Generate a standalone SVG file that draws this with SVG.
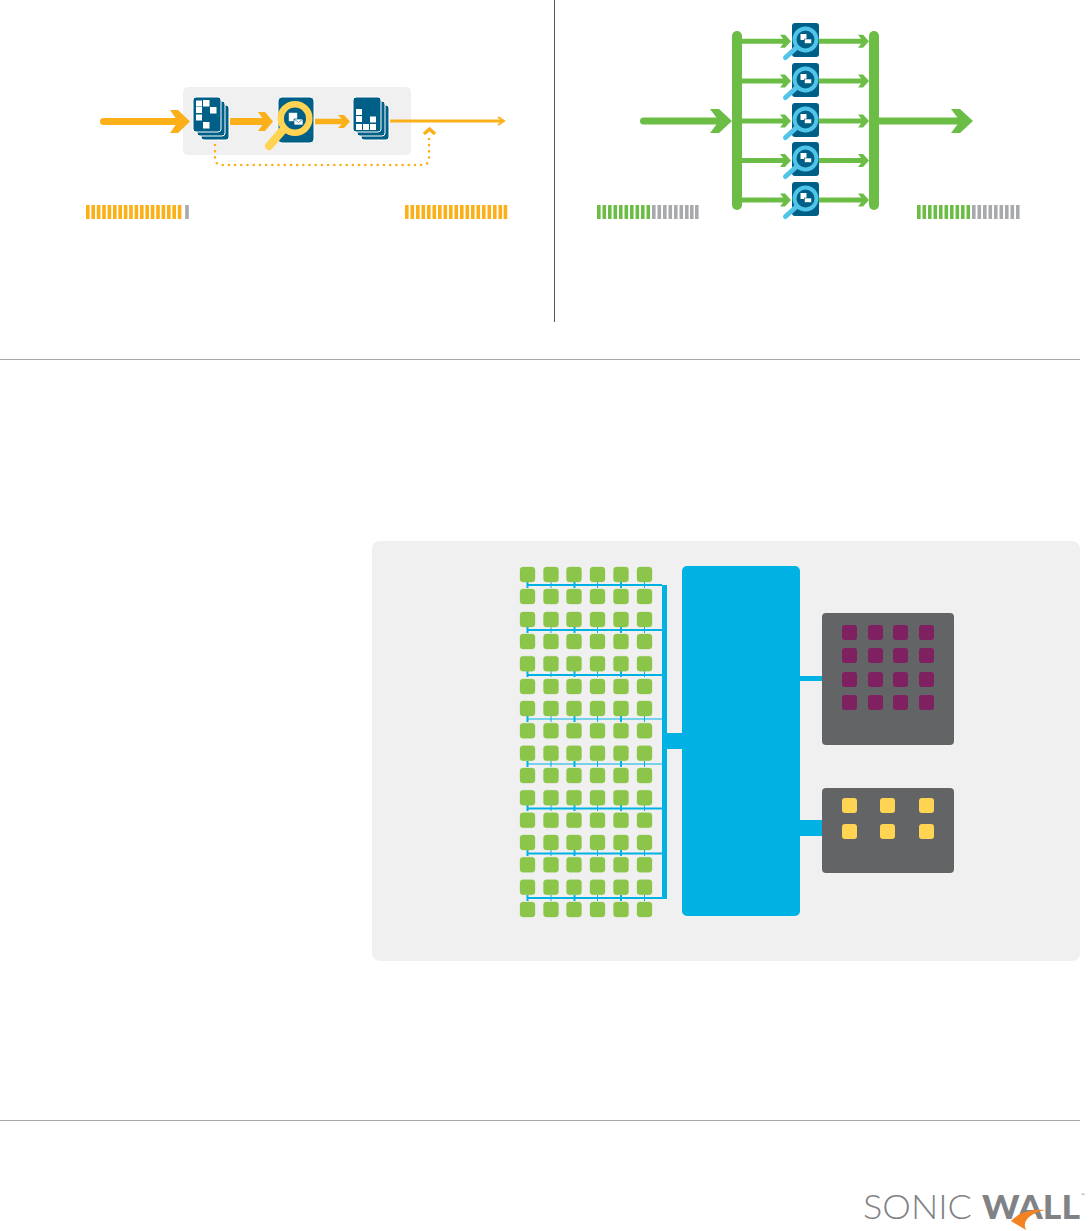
<svg xmlns="http://www.w3.org/2000/svg" width="1089" height="1231" viewBox="0 0 1089 1231">
<style>
.or{fill:#fbb01a}.gr{fill:#6cbd45}.grey{fill:#a7a9ac}.navy{fill:#005f86}
.cell{fill:#8bc549;stroke:#8bc549;stroke-opacity:.3;stroke-width:1}
.bus{fill:#00b2e3}
.pur{fill:#7f2160}.yel{fill:#ffd452}
.dark{fill:#636466}
.logo{font-family:Lato,"Open Sans",sans-serif;fill:#808285}
</style>
<defs>
<g id="env-y">
<rect x="11" y="16" width="8" height="8" fill="#fff" stroke="#cfdde5" stroke-width=".5"/>
<rect x="16" y="22" width="9" height="6" fill="#fff" stroke="#005f86" stroke-width=".7"/>
<path d="M16 22L20.500 25.500L25 22" fill="none" stroke="#005f86" stroke-width=".6"/>
</g>
<g id="mag-y">
<rect x="0" y="0" width="36" height="46" rx="4" class="navy" stroke="#fff" stroke-width="1"/>
<path d="M5 33L-9 49" stroke="#ffd452" stroke-width="8" stroke-linecap="round"/>
<circle cx="17" cy="21.500" r="14.300" fill="#005f86" stroke="#ffd452" stroke-width="6.500"/>
<use href="#env-y"/>
</g>
<g id="mag-b">
<rect x="0" y="0" width="27" height="34" rx="3" class="navy"/>
<path d="M4 25L-6.500 34.500" stroke="#50c5e9" stroke-width="5" stroke-linecap="round"/>
<circle cx="13.500" cy="16.500" r="11" fill="#005f86" stroke="#50c5e9" stroke-width="4"/>
<rect x="8.500" y="11" width="6" height="6" fill="#fff"/>
<rect x="12.500" y="16" width="7" height="4.500" fill="#fff" stroke="#005f86" stroke-width=".6"/>
</g>
<g id="page-stack">
<rect x="8" y="8" width="28" height="35" rx="3" class="navy" stroke="#fff"/>
<rect x="4" y="4" width="28" height="35" rx="3" class="navy" stroke="#fff"/>
<rect x="0" y="0" width="28" height="35" rx="3" class="navy" stroke="#fff"/>
</g>
<path id="chev-b" d="M-20 -11.500H-12L0 0L-12 11.500H-20L-12 0Z"/>
<path id="chev-m" d="M-15 -9.500H-8L0 0L-8 9.500H-15L-8 0Z"/>
<path id="chev-s" d="M-12 -6.500H-6L0 0L-6 6.500H-12L-6 0Z"/>
<path id="chev-g" d="M-11 -6.500H-6L0 0L-6 6.500H-11L-6 0Z"/>
<path id="chev-gb" d="M-22 -12H-13L0 0L-13 12H-22L-13 0Z"/>
<rect id="tick" x="0" y="205" width="3.600" height="14" rx=".5"/>
<rect id="c" width="15" height="15" rx="3" class="cell"/>
<g id="row"><use href="#c" x="520"/><use href="#c" x="543.500"/><use href="#c" x="566.500"/><use href="#c" x="590"/><use href="#c" x="613.500"/><use href="#c" x="637"/></g>
<g id="bus-links"><path d="M527.500 0V6M574.500 0V6M621 0V6" stroke="#00b2e3" stroke-width="2" fill="none"/><path d="M551 0V6M597.500 0V6M644.500 0V6" stroke="#00b2e3" stroke-width="1" fill="none"/></g>
<rect id="p" width="15" height="15" rx="3" class="pur"/>
<rect id="y" width="15" height="15" rx="3" class="yel"/>
</defs>

<g id="backgrounds">
<rect x="183" y="87" width="228" height="68" rx="5" fill="#f0f0f0"/>
<rect x="372" y="541" width="708" height="420" rx="8" fill="#f0f0f0"/>
</g>

<g id="dividers">
<path d="M554.500 0V322" stroke="#58595b" stroke-width="1"/>
<path d="M0 359.500H1080M0 1120.500H1080" stroke="#a7a9ac" stroke-width="1"/>
</g>

<g id="connectors">
<path d="M103.500 121.500H180" stroke="#fbb01a" stroke-width="7" stroke-linecap="round"/>
<use href="#chev-b" x="190" y="121.500" class="or"/>
<path d="M230 121.500H266" stroke="#fbb01a" stroke-width="7"/>
<use href="#chev-m" x="273" y="121.500" class="or"/>
<path d="M315 121.500H345" stroke="#fbb01a" stroke-width="5.500"/>
<use href="#chev-s" x="350" y="121.500" class="or"/>
<path d="M390 121H502" stroke="#fbb01a" stroke-width="3"/>
<path d="M498 117L504 121L498 125" stroke="#fbb01a" stroke-width="2" fill="none"/>
<path d="M215 145V158Q215 165 222 165H422Q429 165 429 158V137" fill="none" stroke="#fbb01a" stroke-width="2.600" stroke-linecap="round" stroke-dasharray="0 6.200"/>
<path d="M424 134L429.500 129L435 134" stroke="#fbb01a" stroke-width="3.500" fill="none"/>

<path d="M643.500 121H725" stroke="#6cbd45" stroke-width="7" stroke-linecap="round"/>
<use href="#chev-gb" x="732" y="121" class="gr"/>
<path d="M737 36V205" stroke="#6cbd45" stroke-width="10" stroke-linecap="round"/>
<path d="M874 36V205" stroke="#6cbd45" stroke-width="10" stroke-linecap="round"/>
<path d="M742 41.300H786M819 41.300H864M742 81H786M819 81H864M742 121H786M819 121H864M742 160.500H786M819 160.500H864M742 200H786M819 200H864" stroke="#6cbd45" stroke-width="5"/>
<use href="#chev-g" x="791" y="41.300" class="gr"/><use href="#chev-g" x="869" y="41.300" class="gr"/>
<use href="#chev-g" x="791" y="81" class="gr"/><use href="#chev-g" x="869" y="81" class="gr"/>
<use href="#chev-g" x="791" y="121" class="gr"/><use href="#chev-g" x="869" y="121" class="gr"/>
<use href="#chev-g" x="791" y="160.500" class="gr"/><use href="#chev-g" x="869" y="160.500" class="gr"/>
<use href="#chev-g" x="791" y="200" class="gr"/><use href="#chev-g" x="869" y="200" class="gr"/>
<path d="M879 121H962" stroke="#6cbd45" stroke-width="7"/>
<use href="#chev-gb" x="973" y="121" class="gr"/>

<g id="buses">
<rect x="662" y="585" width="5" height="314" class="bus"/>
<rect x="667" y="733" width="15" height="16" class="bus"/>
<rect x="800" y="676" width="22" height="5" class="bus"/>
<rect x="800" y="820" width="22" height="16" class="bus"/>
<rect x="527" y="584" width="135" height="2" class="bus"/>
<rect x="527" y="629" width="135" height="2" class="bus"/>
<rect x="527" y="674" width="135" height="2" class="bus"/>
<rect x="527" y="718.500" width="135" height="1" class="bus"/>
<rect x="527" y="763.500" width="135" height="1" class="bus"/>
<rect x="527" y="807.500" width="135" height="2" class="bus"/>
<rect x="527" y="852.500" width="135" height="2" class="bus"/>
<rect x="527" y="897" width="135" height="2" class="bus"/>
<use href="#bus-links" y="582"/><use href="#bus-links" y="627"/><use href="#bus-links" y="671"/><use href="#bus-links" y="716"/><use href="#bus-links" y="761"/><use href="#bus-links" y="805"/><use href="#bus-links" y="850"/><use href="#bus-links" y="895"/>
</g>
</g>

<g id="node-stack-in">
<use href="#page-stack" x="193" y="97"/>
<g fill="#fff"><rect x="196" y="100.500" width="6" height="6"/><rect x="203" y="100" width="6.500" height="6.500"/><rect x="210" y="107" width="6.500" height="6.500"/><rect x="196" y="107" width="6" height="6"/><rect x="196" y="114.500" width="6" height="6"/><rect x="203" y="122" width="6.500" height="6.500"/></g>
</g>
<g id="node-scan"><use href="#mag-y" x="278" y="97"/></g>
<g id="node-stack-out">
<use href="#page-stack" x="353" y="97"/>
<g fill="#fff"><rect x="356" y="109" width="6" height="6"/><rect x="356" y="116" width="6" height="6"/><rect x="356" y="124" width="6" height="6"/><rect x="363" y="124" width="6" height="6"/><rect x="370" y="124" width="6" height="6"/><rect x="370" y="116.500" width="6" height="6"/></g>
</g>

<g id="node-parallel">
<use href="#mag-b" x="792" y="23"/><use href="#mag-b" x="792" y="63"/><use href="#mag-b" x="792" y="103"/><use href="#mag-b" x="792" y="142"/><use href="#mag-b" x="792" y="182"/>
</g>

<g id="gauges">
<g class="or"><use href="#tick" x="86"/><use href="#tick" x="91.400"/><use href="#tick" x="96.800"/><use href="#tick" x="102.200"/><use href="#tick" x="107.600"/><use href="#tick" x="113"/><use href="#tick" x="118.400"/><use href="#tick" x="123.800"/><use href="#tick" x="129.200"/><use href="#tick" x="134.600"/><use href="#tick" x="140"/><use href="#tick" x="145.400"/><use href="#tick" x="150.800"/><use href="#tick" x="156.200"/><use href="#tick" x="161.600"/><use href="#tick" x="167"/><use href="#tick" x="172.400"/><use href="#tick" x="177.800"/></g>
<use href="#tick" x="185.200" class="grey"/>
<g class="or"><use href="#tick" x="405"/><use href="#tick" x="410.500"/><use href="#tick" x="416"/><use href="#tick" x="421.500"/><use href="#tick" x="427"/><use href="#tick" x="432.500"/><use href="#tick" x="438"/><use href="#tick" x="443.500"/><use href="#tick" x="449"/><use href="#tick" x="454.500"/><use href="#tick" x="460"/><use href="#tick" x="465.500"/><use href="#tick" x="471"/><use href="#tick" x="476.500"/><use href="#tick" x="482"/><use href="#tick" x="487.500"/><use href="#tick" x="493"/><use href="#tick" x="498.500"/><use href="#tick" x="503.600"/></g>
<g class="gr"><use href="#tick" x="597"/><use href="#tick" x="602.500"/><use href="#tick" x="608"/><use href="#tick" x="613.500"/><use href="#tick" x="619"/><use href="#tick" x="624.500"/><use href="#tick" x="630"/><use href="#tick" x="635.500"/><use href="#tick" x="641"/><use href="#tick" x="646.500"/></g>
<g class="grey"><use href="#tick" x="652"/><use href="#tick" x="657.500"/><use href="#tick" x="663"/><use href="#tick" x="668.500"/><use href="#tick" x="674"/><use href="#tick" x="679.500"/><use href="#tick" x="685"/><use href="#tick" x="690"/><use href="#tick" x="695"/></g>
<g class="gr"><use href="#tick" x="917"/><use href="#tick" x="922.500"/><use href="#tick" x="928"/><use href="#tick" x="933.500"/><use href="#tick" x="939"/><use href="#tick" x="944.500"/><use href="#tick" x="950"/><use href="#tick" x="955.500"/><use href="#tick" x="961"/><use href="#tick" x="966.500"/></g>
<g class="grey"><use href="#tick" x="972"/><use href="#tick" x="977.500"/><use href="#tick" x="983"/><use href="#tick" x="988.500"/><use href="#tick" x="994"/><use href="#tick" x="999.500"/><use href="#tick" x="1005"/><use href="#tick" x="1010.500"/><use href="#tick" x="1016"/></g>
</g>

<g id="node-grid">
<use href="#row" y="567"/><use href="#row" y="589"/><use href="#row" y="612"/><use href="#row" y="634"/><use href="#row" y="656.300"/><use href="#row" y="679"/><use href="#row" y="701"/><use href="#row" y="723.300"/><use href="#row" y="745.700"/><use href="#row" y="768"/><use href="#row" y="790.300"/><use href="#row" y="812.700"/><use href="#row" y="835"/><use href="#row" y="857.300"/><use href="#row" y="879.700"/><use href="#row" y="902"/>
</g>

<g id="node-hub"><rect x="682" y="566" width="118" height="350" rx="5" class="bus"/></g>

<g id="node-box-purple">
<rect x="822" y="613" width="132" height="132" rx="4" class="dark"/>
<use href="#p" x="842" y="625"/><use href="#p" x="868" y="625"/><use href="#p" x="893" y="625"/><use href="#p" x="919" y="625"/>
<use href="#p" x="842" y="648"/><use href="#p" x="868" y="648"/><use href="#p" x="893" y="648"/><use href="#p" x="919" y="648"/>
<use href="#p" x="842" y="672"/><use href="#p" x="868" y="672"/><use href="#p" x="893" y="672"/><use href="#p" x="919" y="672"/>
<use href="#p" x="842" y="695"/><use href="#p" x="868" y="695"/><use href="#p" x="893" y="695"/><use href="#p" x="919" y="695"/>
</g>

<g id="node-box-yellow">
<rect x="822" y="788" width="132" height="85" rx="4" class="dark"/>
<use href="#y" x="842" y="798"/><use href="#y" x="880" y="798"/><use href="#y" x="919" y="798"/>
<use href="#y" x="842" y="824"/><use href="#y" x="880" y="824"/><use href="#y" x="919" y="824"/>
</g>

<g id="logo">
<text class="logo" x="863" y="1219" font-size="33" font-weight="300" textLength="109" lengthAdjust="spacingAndGlyphs">SONIC</text>
<text class="logo" x="982" y="1219" font-size="33" font-weight="900" textLength="98" lengthAdjust="spacingAndGlyphs">WALL</text>
<text class="logo" x="1081" y="1197" font-size="5">™</text>
<path d="M1045 1210C1030 1209 1018 1213 1011 1221L1026 1230C1022 1222 1028 1214 1045 1210Z" fill="#f58220"/>
</g>
</svg>
